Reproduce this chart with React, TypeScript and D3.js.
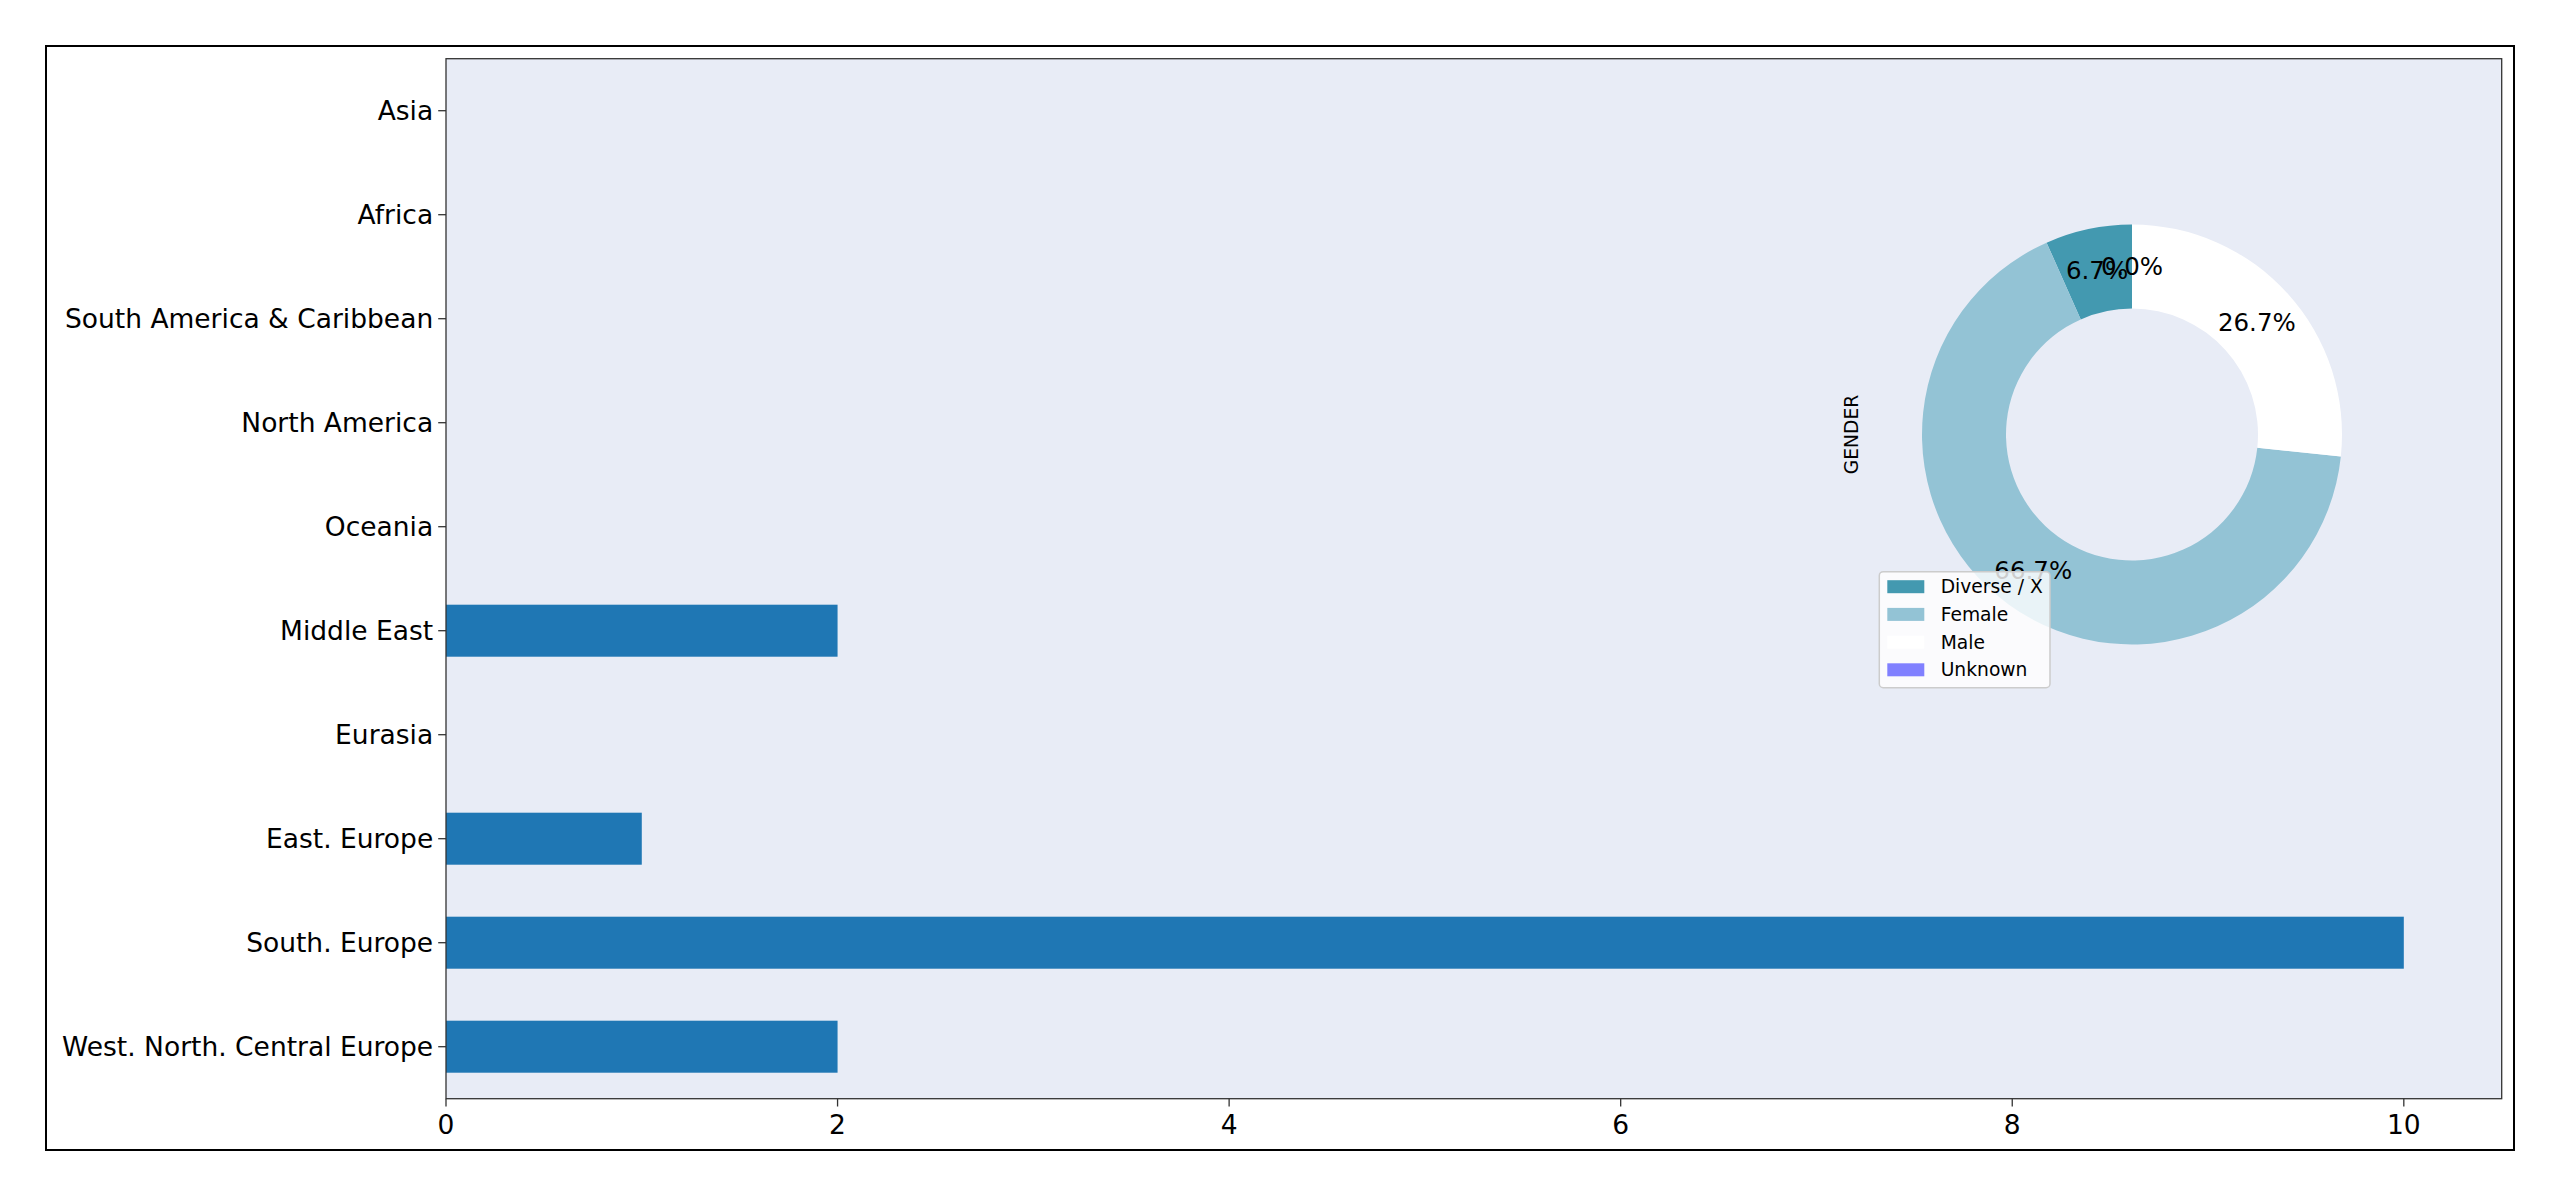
import React from "react";
import * as d3 from "d3";

const regions = [
  "Asia",
  "Africa",
  "South America & Caribbean",
  "North America",
  "Oceania",
  "Middle East",
  "Eurasia",
  "East. Europe",
  "South. Europe",
  "West. North. Central Europe",
];
const regionCounts = [0, 0, 0, 0, 0, 2, 0, 1, 10, 2];
const xTicks = [0, 2, 4, 6, 8, 10];

const genderLabels = ["Diverse / X", "Female", "Male", "Unknown"];
const genderCounts = [1, 10, 4, 0];
const genderColors = ["#4399b0", "#93c3d5", "#ffffff", "#8080ff"];

const W = 2560;
const H = 1197;
const FONT = "DejaVu Sans, sans-serif";

export default function App() {
  const plot = { left: 446, right: 2501.7, top: 58.7, bottom: 1098.7 };
  const x = d3.scaleLinear().domain([0, 10.5]).range([plot.left, plot.right]);
  const y = d3
    .scaleBand()
    .domain(regions)
    .range([plot.top, plot.bottom])
    .paddingInner(0.5)
    .paddingOuter(0.25);

  const cx = 2132;
  const cy = 434.5;
  const R = 210;
  const total = d3.sum(genderCounts);
  const pie = d3
    .pie<number>()
    .sort(null)
    .startAngle(0)
    .endAngle(-2 * Math.PI)
    .value((d) => d);
  const arcs = pie(genderCounts);
  const arcGen = d3.arc<d3.PieArcDatum<number>>().innerRadius(R * 0.6).outerRadius(R);
  const labelR = R * 0.8;

  const tickLen = 7.8;
  const tickFont = 26.5;

  const legend = { x: 1879.3, y: 571.7, w: 170.7, h: 116 };

  return (
    <svg width={W} height={H} style={{ position: "absolute", left: 0, top: 0 }} fontFamily={FONT}>
      <rect x={0} y={0} width={W} height={H} fill="#ffffff" />
      <rect x={46} y={46} width={2468} height={1104} fill="none" stroke="#000" strokeWidth={2} />
      <rect
        x={plot.left}
        y={plot.top}
        width={plot.right - plot.left}
        height={plot.bottom - plot.top}
        fill="#e8ecf6"
      />
      {regions.map((r, i) => (
        <rect
          key={r}
          x={x(0)}
          y={y(r)!}
          width={x(regionCounts[i]) - x(0)}
          height={y.bandwidth()}
          fill="#1f77b4"
        />
      ))}

      {/* Pie */}
      <g transform={`translate(${cx},${cy})`}>
        {arcs.map((a, i) => (
          <path key={genderLabels[i]} d={arcGen(a) || ""} fill={genderColors[i]} />
        ))}
        {arcs.map((a, i) => {
          const mid = (a.startAngle + a.endAngle) / 2;
          const px = labelR * Math.sin(mid);
          const py = -labelR * Math.cos(mid);
          return (
            <text
              key={"l" + i}
              x={px}
              y={py}
              fontSize={24.5}
              textAnchor="middle"
              dominantBaseline="central"
              fill="#000"
            >
              {((genderCounts[i] / total) * 100).toFixed(1)}%
            </text>
          );
        })}
      </g>
      <text
        transform={`translate(1851.5,${cy}) rotate(-90)`}
        fontSize={18.7}
        textAnchor="middle"
        dominantBaseline="central"
        fill="#000"
      >
        GENDER
      </text>

      {/* Legend */}
      <rect
        x={legend.x}
        y={legend.y}
        width={legend.w}
        height={legend.h}
        rx={4}
        fill="#ffffff"
        fillOpacity={0.8}
        stroke="#cccccc"
        strokeWidth={1.5}
      />
      {genderLabels.map((g, i) => {
        const rowY = 586.7 + i * 27.7;
        return (
          <g key={"lg" + g}>
            <rect x={1887.3} y={rowY - 6.5} width={37} height={13} fill={genderColors[i]} />
            <text x={1940.7} y={rowY} fontSize={18.7} dominantBaseline="central" fill="#000">
              {g}
            </text>
          </g>
        );
      })}

      {/* Spines */}
      <rect
        x={plot.left}
        y={plot.top}
        width={plot.right - plot.left}
        height={plot.bottom - plot.top}
        fill="none"
        stroke="#333"
        strokeWidth={1.3}
      />

      {/* Y axis */}
      {regions.map((r) => {
        const yc = y(r)! + y.bandwidth() / 2;
        return (
          <g key={"yt" + r}>
            <line x1={plot.left - tickLen} x2={plot.left} y1={yc} y2={yc} stroke="#333" strokeWidth={1.3} />
            <text
              x={plot.left - tickLen - 5}
              y={yc}
              fontSize={tickFont}
              textAnchor="end"
              dominantBaseline="central"
              fill="#000"
            >
              {r}
            </text>
          </g>
        );
      })}

      {/* X axis */}
      {xTicks.map((t) => (
        <g key={"xt" + t}>
          <line x1={x(t)} x2={x(t)} y1={plot.bottom} y2={plot.bottom + tickLen} stroke="#333" strokeWidth={1.3} />
          <text
            x={x(t)}
            y={plot.bottom + tickLen + 7.8}
            fontSize={tickFont}
            textAnchor="middle"
            dominantBaseline="hanging"
            fill="#000"
          >
            {t}
          </text>
        </g>
      ))}
    </svg>
  );
}
